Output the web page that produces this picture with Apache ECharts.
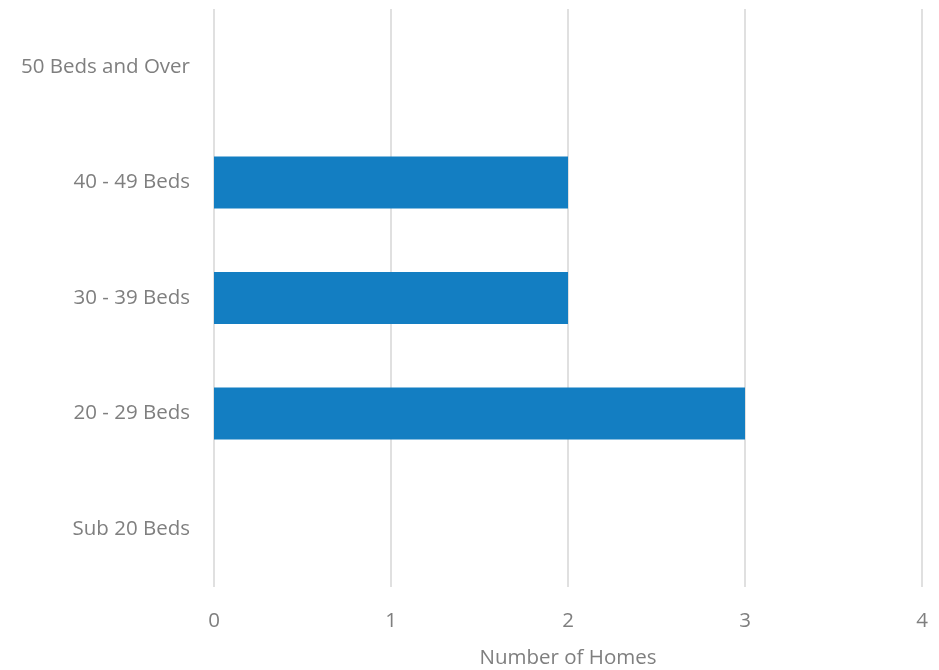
<!DOCTYPE html>
<html>
<head>
<meta charset="utf-8">
<script src="https://cdn.jsdelivr.net/npm/echarts@6/dist/echarts.min.js"></script>
<style>html,body{margin:0;padding:0;background:#fff}#c{width:939px;height:670px}</style>
</head>
<body>
<div id="c"></div>
<script>
const categories = ["Sub 20 Beds", "20 - 29 Beds", "30 - 39 Beds", "40 - 49 Beds", "50 Beds and Over"];
const values = [0, 3, 2, 2, 0];
const xTicks = [0, 1, 2, 3, 4];

const chart = echarts.init(document.getElementById('c'));
chart.setOption({
  animation: false,
  textStyle: { fontFamily: 'Open Sans' },
  grid: { left: 214, right: 17, top: 9, bottom: 83, outerBoundsMode: 'none', containLabel: false },
  xAxis: {
    type: 'value', min: xTicks[0], max: xTicks[xTicks.length - 1], interval: 1,
    name: 'Number of Homes', nameLocation: 'middle', nameGap: 61,
    nameTextStyle: { color: '#7f7f7f', fontSize: 20.5, fontFamily: 'Open Sans' },
    axisLine: { show: false }, axisTick: { show: false },
    axisLabel: { color: '#7f7f7f', fontSize: 20.5, margin: 24, fontFamily: 'Open Sans' },
    splitLine: { show: true, lineStyle: { color: '#e0e0e0', width: 2 } }
  },
  yAxis: {
    type: 'category', data: categories,
    axisLine: { show: false }, axisTick: { show: false },
    axisLabel: { color: '#7f7f7f', fontSize: 20.5, margin: 24, fontFamily: 'Open Sans' },
    splitLine: { show: false }
  },
  series: [{
    type: 'bar', data: values, barCategoryGap: '55%',
    itemStyle: { color: '#137ec2' }
  }]
});
</script>
</body>
</html>
